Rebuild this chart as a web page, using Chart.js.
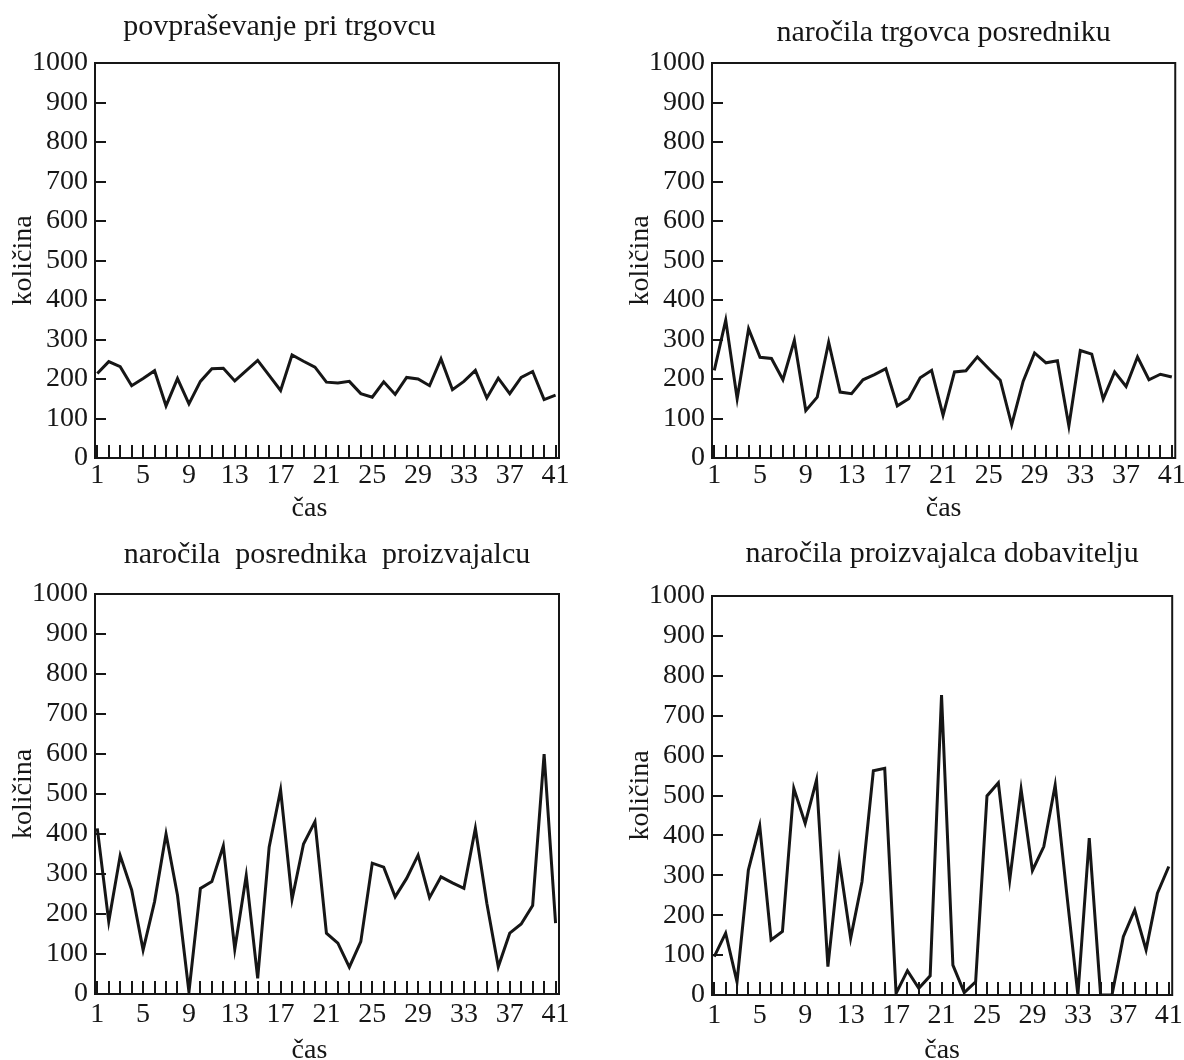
<!DOCTYPE html>
<html lang="sl">
<head>
<meta charset="UTF-8">
<title>Količine v oskrbovalni verigi</title>
<script src="https://cdn.jsdelivr.net/npm/chart.js"></script>
<style>
  body { margin: 0; background: #fff; width: 1184px; height: 1060px; overflow: hidden; position: relative; }
  canvas { position: absolute; }
</style>
</head>
<body>
<canvas id="c1" width="592" height="530" style="left:0;top:0"></canvas>
<canvas id="c2" width="608" height="530" style="left:592px;top:0"></canvas>
<canvas id="c3" width="592" height="540" style="left:0;top:530px"></canvas>
<canvas id="c4" width="608" height="540" style="left:592px;top:530px"></canvas>

<script>
// podatki (odčitani s slike)
const casTicks = [1, 5, 9, 13, 17, 21, 25, 29, 33, 37, 41];
const kolicinaTicks = [0, 100, 200, 300, 400, 500, 600, 700, 800, 900, 1000];

const povprasevanje = [214, 244, 231, 183, 201, 221, 132, 201, 137, 194, 226, 227, 195, 221, 247, 209, 171, 261, 245, 230,
  192, 190, 194, 163, 154, 193, 161, 204, 200, 183, 251, 173, 194, 222, 152, 202, 163, 204, 219, 148, 159];
const narocilaTrgovca = [222, 349, 150, 327, 255, 252, 198, 298, 120, 154, 293, 167, 163, 198, 211, 226, 132, 150, 203, 222,
  108, 218, 221, 256, 226, 197, 84, 194, 266, 241, 246, 81, 272, 263, 149, 218, 181, 256, 198, 212, 205];
const narocilaPosrednika = [414, 181, 346, 260, 110, 231, 400, 247, 5, 264, 281, 370, 112, 296, 39, 367, 510, 237, 375, 431,
  152, 127, 67, 131, 327, 317, 243, 289, 347, 241, 293, 278, 264, 414, 227, 68, 152, 175, 221, 600, 177];
const narocilaProizvajalca = [96, 155, 33, 313, 424, 138, 159, 518, 430, 539, 71, 337, 142, 284, 562, 568, 4, 61, 17, 48,
  752, 75, 6, 33, 499, 532, 288, 516, 312, 372, 526, 259, 0, 393, 0, 0, 146, 213, 113, 255, 322];

const INK = '#161616';
const FONT = '"Liberation Serif", "Times New Roman", serif';
Chart.defaults.font.family = FONT;
Chart.defaults.color = INK;

// okvir okoli risalne ploskve
const frame = {
  id: 'frame',
  afterDatasetsDraw(chart) {
    const a = chart.chartArea, ctx = chart.ctx;
    ctx.save();
    ctx.strokeStyle = INK;
    ctx.lineWidth = 2;
    ctx.strokeRect(a.left, a.top, a.right - a.left, a.bottom - a.top);
    ctx.restore();
  }
};

function panel(id, naslov, values, g) {
  new Chart(document.getElementById(id), {
    type: 'line',
    data: {
      datasets: [{
        data: values.map((v, i) => ({ x: i + 1, y: v })),
        borderColor: INK,
        borderWidth: 3,
        pointRadius: 0,
        tension: 0,
        fill: false
      }]
    },
    options: {
      responsive: false,
      animation: false,
      layout: { padding: { left: 0, right: g.padRight, top: 0, bottom: 0 } },
      plugins: {
        legend: { display: false },
        tooltip: { enabled: false },
        title: {
          display: true,
          text: naslov,
          fullSize: g.fullSize,
          color: INK,
          font: { size: 30, weight: 'normal' },
          padding: { top: g.titleTop, bottom: g.titleBottom }
        }
      },
      scales: {
        x: {
          type: 'linear',
          min: 0.8,
          max: 41.3,
          border: { display: false },
          grid: { drawOnChartArea: false, tickLength: -13, lineWidth: 2, color: INK },
          ticks: {
            stepSize: 1,
            autoSkip: false,
            maxRotation: 0,
            includeBounds: false,
            padding: g.xPad,
            font: { size: 28 },
            callback: v => casTicks.includes(v) ? String(v) : ''
          },
          title: {
            display: true,
            // trailing spaces push the label a bit left, like in the original
            text: 'čas' + ' '.repeat(g.casShift),
            font: { size: 28 },
            padding: { top: 0, bottom: g.casBottom }
          },
          afterFit: s => { s.height = g.xHeight; }
        },
        y: {
          min: 0,
          max: 1000,
          border: { display: false },
          grid: { drawOnChartArea: false, tickLength: -11, lineWidth: 2, color: INK },
          afterBuildTicks: s => { s.ticks = kolicinaTicks.map(v => ({ value: v })); },
          ticks: { padding: 18, font: { size: 28 }, callback: v => String(v) },
          title: {
            display: true,
            text: 'količina',
            font: { size: 28 },
            padding: { top: g.kolTop, bottom: 0 }
          },
          afterFit: s => { s.width = g.yWidth; }
        }
      }
    },
    plugins: [frame]
  });
}

panel('c1', 'povpraševanje pri trgovcu', povprasevanje,
  { fullSize: true, padRight: 33, titleTop: 9, titleBottom: 18, xHeight: 72, xPad: 14, casBottom: 5, casShift: 5, yWidth: 95, kolTop: 7 });
panel('c2', 'naročila trgovca posredniku', narocilaTrgovca,
  { fullSize: false, padRight: 23, titleTop: 15, titleBottom: 12, xHeight: 72, xPad: 14, casBottom: 5, casShift: 0, yWidth: 120, kolTop: 32 });
panel('c3', 'naročila  posrednika  proizvajalcu', narocilaPosrednika,
  { fullSize: false, padRight: 33, titleTop: 7, titleBottom: 21, xHeight: 76, xPad: 17, casBottom: 3, casShift: 5, yWidth: 95, kolTop: 7 });
panel('c4', 'naročila proizvajalca dobavitelju', narocilaProizvajalca,
  { fullSize: false, padRight: 23, titleTop: 6, titleBottom: 24, xHeight: 75, xPad: 17, casBottom: 3, casShift: 0, yWidth: 120, kolTop: 32 });
</script>
</body>
</html>
